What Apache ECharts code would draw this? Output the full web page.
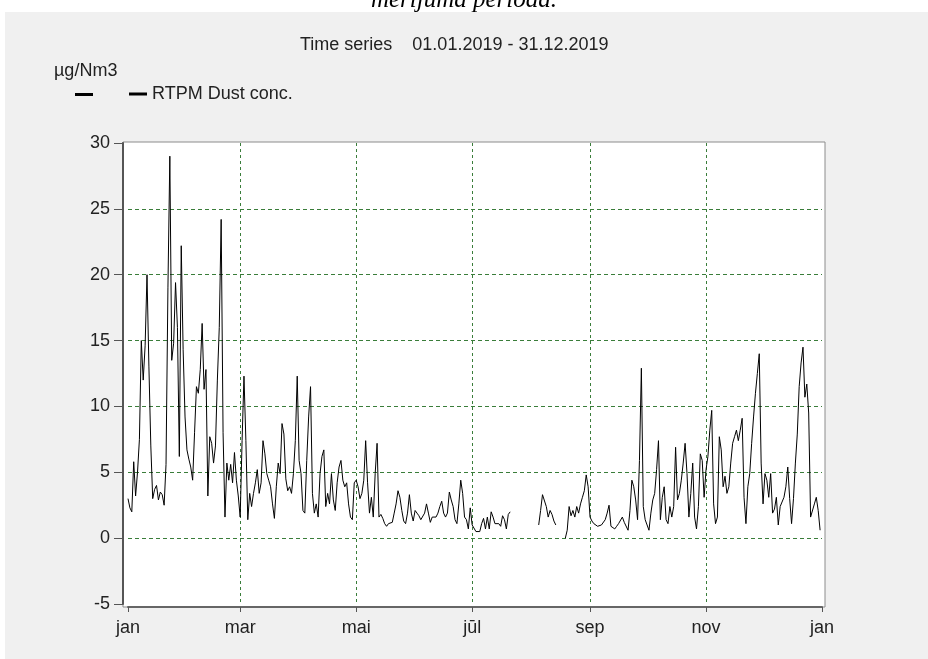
<!DOCTYPE html>
<html>
<head>
<meta charset="utf-8">
<script src="https://cdn.jsdelivr.net/npm/echarts@6/dist/echarts.min.js"></script>
<style>
  html, body { margin: 0; padding: 0; background: #ffffff; }
  #panel { position: absolute; left: 5px; top: 12px; width: 923px; height: 647px; background: #f0f0f0; }
  #chart { position: absolute; left: 0; top: 0; width: 928px; height: 659px; }
</style>
</head>
<body>
<div id="panel"></div>
<div id="chart"></div>
<script>
// Daily RTPM dust concentration 2019 (µg/Nm3); null = no data
const jan = [3.0, 2.3, 2.0, 5.8, 3.2, 5.0, 7.5, 15.0, 12.0, 14.6, 20.0, 13.0, 7.0, 3.0, 3.7, 4.0, 2.9, 3.5, 3.3, 2.5, 5.6, 19.0, 29.0, 13.5, 14.8, 19.4, 16.0, 6.2, 22.2, 14.3, 9.2];
const feb = [6.7, 6.0, 5.4, 4.4, 8.0, 11.5, 11.0, 12.8, 16.3, 11.3, 12.8, 3.2, 7.7, 7.2, 5.7, 7.0, 12.0, 16.0, 24.2, 8.0, 1.6, 5.7, 4.4, 5.6, 4.2, 6.5, 4.4, 3.2];
const mar = [1.6, 7.4, 12.3, 7.4, 1.4, 3.4, 2.4, 3.4, 4.2, 5.2, 3.4, 4.2, 7.4, 6.4, 4.9, 4.4, 3.9, 2.6, 1.5, 3.9, 5.7, 4.9, 8.7, 7.9, 4.5, 3.6, 3.9, 3.4, 4.9, 7.4, 12.3];
const apr = [5.9, 4.9, 2.1, 1.9, 5.9, 9.2, 11.5, 3.4, 1.9, 2.6, 1.6, 4.9, 6.2, 6.7, 2.4, 3.4, 2.6, 4.9, 2.9, 2.1, 4.2, 5.4, 5.9, 4.4, 3.9, 4.2, 2.6, 1.6, 1.4, 4.2];
const may = [4.4, 3.9, 3.0, 3.4, 4.4, 7.4, 4.2, 1.9, 3.1, 1.6, 4.9, 7.2, 1.6, 1.8, 1.5, 1.1, 0.9, 1.1, 1.0, 1.2, 1.9, 2.6, 3.6, 3.1, 2.1, 1.3, 1.1, 1.9, 3.3, 1.9, 1.3];
const jun = [2.1, 1.9, 1.7, 1.4, 1.5, 1.9, 2.6, 1.9, 1.2, 1.6, 1.7, 1.6, 1.9, 2.4, 2.8, 1.9, 1.6, 1.9, 3.5, 2.9, 2.4, 1.4, 1.1, 2.6, 4.4, 3.4, 1.6, 1.4, 0.7, 2.3];
const jul = [1.0, 1.0, 0.5, 0.6, 0.5, 1.1, 1.5, 0.7, 1.6, 0.7, 2.0, 1.6, 1.1, 1.0, 1.1, 0.9, 1.7, 1.4, 0.7, 1.8, 2.0, null, null, null, null, null, null, null, null, null, null];
const aug = [null, null, null, null, 1.0, 2.1, 3.3, 3.3, 2.4, 1.6, 2.1, 1.8, 1.3, 1.0, null, null, null, null, 0.0, 0.6, 2.4, 1.7, 2.1, 1.6, 2.4, 1.9, 2.6, 3.1, 3.6, 4.8, 3.9];
const sep = [1.6, 1.3, 1.1, 1.0, 0.9, 0.9, 1.0, 0.9, 1.4, 1.9, 2.5, 0.9, 0.8, 0.7, 0.9, 1.1, 1.0, 1.6, 1.2, 1.1, 0.6, 2.1, 4.4, 3.9, 2.9, 1.4, 5.9, 12.9, 2.4, 1.4];
const oct = [1.0, 0.6, 1.9, 2.9, 3.4, 5.2, 7.4, 1.4, 3.1, 3.9, 1.4, 1.1, 2.4, 1.6, 2.4, 6.9, 2.9, 3.4, 4.4, 5.7, 7.2, 4.9, 1.6, 3.4, 5.7, 1.6, 0.7, 2.4, 6.4, 5.9, 3.1];
const nov = [5.2, 6.2, 8.2, 9.7, 2.6, 1.1, 1.6, 7.7, 6.7, 3.9, 4.7, 3.4, 3.9, 5.7, 7.2, 7.7, 8.2, 7.4, 8.2, 9.1, 3.1, 1.1, 3.9, 4.9, 7.2, 9.2, 11.0, 12.5, 14.0, 5.7];
const dec = [2.6, 4.9, 4.4, 3.1, 4.9, 1.9, 2.2, 3.1, 1.0, 2.4, 2.3, 3.1, 3.9, 5.4, 3.0, 1.1, 3.0, 5.7, 7.9, 11.5, 13.3, 14.5, 10.7, 11.7, 9.5, 1.6, 1.5, 2.6, 3.1, 2.1, 0.6];

const tickDays   = [0, 59, 120, 181, 243, 304, 365];
const tickLabels = ['jan', 'mar', 'mai', 'jūl', 'sep', 'nov', 'jan'];
const yTicks = [-5, 0, 5, 10, 15, 20, 25, 30];
const seriesName = 'RTPM Dust conc.';
const unitLabel = 'µg/Nm3';
const titleText = 'Time series    01.01.2019 - 31.12.2019';

// categories: every day of 2019 plus 1 Jan 2020 (axis end)
const categories = [];
{
  const d = new Date(Date.UTC(2019, 0, 1));
  for (let i = 0; i <= 365; i++) {
    categories.push(d.toISOString().slice(0, 10));
    d.setUTCDate(d.getUTCDate() + 1);
  }
}
const values = [].concat(jan, feb, mar, apr, may, jun, jul, aug, sep, oct, nov, dec, [null]);
const tickSet = new Set(tickDays);
const labelFor = {};
tickDays.forEach((d, i) => { labelFor[categories[d]] = tickLabels[i]; });

const FONT = '"Liberation Sans", Arial, sans-serif';
const GREEN = '#3a7d3a';
const TEXT = '#222222';

const chart = echarts.init(document.getElementById('chart'), null, { renderer: 'canvas' });
chart.setOption({
  backgroundColor: 'transparent',
  animation: false,
  textStyle: { fontFamily: FONT },
  title: {
    text: titleText,
    left: 300, top: 36, padding: 0,
    textStyle: { fontFamily: FONT, fontSize: 18, fontWeight: 'normal', color: TEXT }
  },
  legend: {
    data: [seriesName],
    left: 129, top: 85, padding: 0,
    icon: 'rect', itemWidth: 18, itemHeight: 3,
    textStyle: { fontFamily: FONT, fontSize: 18, color: TEXT }
  },
  graphic: [
    { type: 'text', left: 'center', top: -12, style: { text: 'mērījuma periodā.', font: 'italic 25px "Liberation Serif", "DejaVu Serif", serif', fill: '#000' } },
    { type: 'text', left: 54, top: 62, style: { text: unitLabel, font: '18px ' + FONT, fill: TEXT } },
    { type: 'rect', left: 75, top: 93, shape: { width: 18, height: 3 }, style: { fill: '#000' } }
  ],
  grid: [
    { left: 123, right: 103, top: 142, bottom: 52, show: true, backgroundColor: '#ffffff', borderColor: '#8c8c8c', borderWidth: 1, z: 0 },
    { left: 128, right: 106, top: 143, bottom: 55, show: false }
  ],
  xAxis: [{
    gridIndex: 1,
    type: 'category',
    data: categories,
    boundaryGap: false,
    offset: 3,
    axisLine: { show: true, onZero: false, lineStyle: { color: '#666', width: 2 } },
    axisTick: { show: true, length: 5, interval: (i) => tickSet.has(i), lineStyle: { color: '#555' } },
    axisLabel: { interval: (i) => tickSet.has(i), formatter: (v) => labelFor[v] || '', margin: 12, fontFamily: FONT, fontSize: 18, color: TEXT },
    splitLine: { show: true, interval: (i) => tickSet.has(i), lineStyle: { color: ['transparent', GREEN, GREEN, GREEN, GREEN, GREEN, 'transparent'], type: [3, 3], width: 1 } }
  }],
  yAxis: [{
    gridIndex: 1,
    type: 'value',
    min: yTicks[0], max: yTicks[yTicks.length - 1], interval: 5,
    offset: 5,
    axisLine: { show: true, lineStyle: { color: '#555', width: 2 } },
    axisTick: { show: true, length: 9, lineStyle: { color: '#555' } },
    axisLabel: { margin: 13, fontFamily: FONT, fontSize: 18, color: TEXT },
    splitLine: { show: true, lineStyle: { color: ['transparent', GREEN, GREEN, GREEN, GREEN, GREEN, GREEN, 'transparent'], type: [4, 3], width: 1 } }
  }],
  series: [{
    name: seriesName,
    type: 'line',
    xAxisIndex: 0, yAxisIndex: 0,
    data: values,
    showSymbol: false,
    connectNulls: false,
    lineStyle: { color: '#000', width: 1 },
    itemStyle: { color: '#000' }
  }]
});
</script>
</body>
</html>
